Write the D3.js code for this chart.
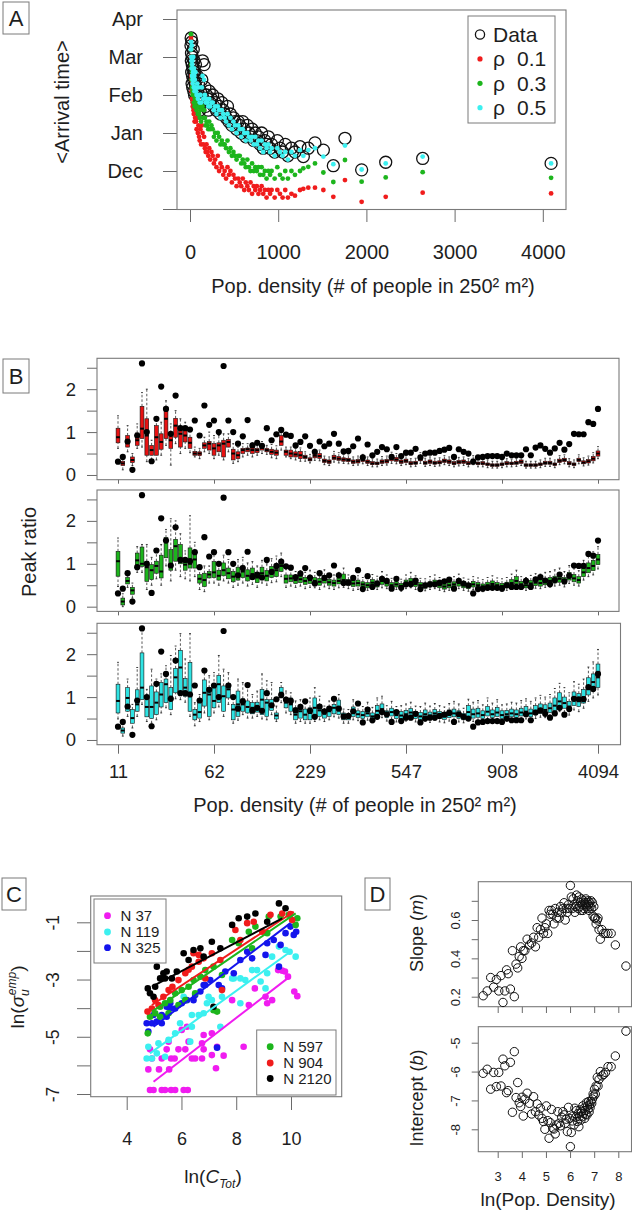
<!DOCTYPE html>
<html>
<head>
<meta charset="utf-8">
<script src="https://cdn.jsdelivr.net/npm/d3@7"></script>
<style>
  body { margin: 0; background: #fff; }
  svg text { font-family: "Liberation Sans", Arial, sans-serif; fill: #1e1e1e; }
</style>
</head>
<body>
<svg id="fig" width="632" height="1213"></svg>
<script>
// population density of each cell class (# of people in 250^2 m^2)
const densities = [11, 13, 15, 17, 19, 21, 23, 25, 27, 29, 31, 34, 37, 40, 43, 46, 49, 52, 55, 58,
  62, 68, 75, 82, 89, 96, 103, 110, 118, 126, 134, 142, 151, 160, 169, 178, 187, 197, 207, 218,
  229, 243, 257, 271, 285, 300, 315, 330, 345, 361, 377, 393, 409, 425, 441, 458, 475, 492, 510, 528,
  547, 564, 581, 598, 615, 632, 650, 668, 686, 704, 722, 740, 758, 776, 794, 812, 830, 849, 868, 888,
  908, 925, 960, 990, 1020, 1050, 1080, 1110, 1150, 1190, 1247, 1285, 1341, 1417, 1512, 1625, 1757, 1946, 2219, 2638, 4094];

// panel A: mean arrival time, months after 1 Nov
const monthLabels = ['', 'Dec', 'Jan', 'Feb', 'Mar', 'Apr'];
const densityTicksA = [0, 1000, 2000, 3000, 4000];
const arrivalData = [4.3, 4.5, 3.9, 4.1, 3.6, 4.4, 3.3, 3.8, 4.0, 3.5, 3.2,
  3.7, 4.2, 3.4, 3.1, 3.9, 3.6, 3.0, 3.5, 3.3, 3.8,
  3.2, 2.9, 3.5, 2.7, 3.3, 3.0, 2.6, 3.1, 2.8, 3.4,
  3.9, 2.9, 3.8, 3.2, 2.7, 3.0, 2.9, 2.6, 3.1, 2.8,
  2.9, 3.0, 2.7, 2.8, 2.6, 2.9, 2.7, 2.5, 2.8, 2.6,
  2.5, 2.4, 2.7, 2.3, 2.5, 2.2, 2.4, 2.3, 2.1, 2.3,
  2.2, 2.0, 2.3, 2.1, 1.9, 2.2, 2.0, 1.9, 2.1, 1.8,
  2.0, 1.8, 1.9, 1.7, 2.0, 1.6, 1.8, 1.7, 1.9, 1.6,
  1.7, 1.5, 1.8, 1.6, 1.5, 1.7, 1.4, 1.6, 1.5,
  1.64, 1.38, 1.60, 1.74, 1.55, 1.14, 1.86, 1.03, 1.23, 1.33, 1.20];
const arrivalRho1 = [4.5, 4.0, 3.5, 3.4, 3.1, 3.7, 2.9, 3.2, 3.3, 2.8, 2.7,
  3.0, 3.2, 2.6, 2.5, 2.9, 2.7, 2.3, 2.6, 2.4, 2.8,
  2.3, 2.1, 2.4, 2.0, 2.2, 1.9, 1.8, 2.1, 1.7, 2.2,
  2.0, 1.7, 1.9, 1.6, 1.5, 1.7, 1.5, 1.4, 1.6, 1.3,
  1.5, 1.4, 1.2, 1.3, 1.1, 1.4, 1.0, 1.2, 1.1, 0.9,
  1.0, 0.8, 1.1, 0.9, 1.0, 0.7, 0.9, 0.8, 0.6, 0.8,
  0.7, 0.6, 0.8, 0.5, 0.7, 0.6, 0.5, 0.7, 0.4, 0.6,
  0.5, 0.6, 0.4, 0.5, 0.6, 0.4, 0.5, 0.3, 0.5, 0.4,
  0.5, 0.3, 0.5, 0.4, 0.3, 0.5, 0.3, 0.4, 0.35,
  0.50, 0.53, 0.56, 0.56, 0.50, 0.32, 0.76, 0.19, 0.32, 0.43, 0.41];
const arrivalRho3 = [4.6, 4.2, 3.8, 3.7, 3.4, 4.0, 3.2, 3.5, 3.6, 3.1, 3.0,
  3.3, 3.6, 3.0, 2.8, 3.2, 3.0, 2.7, 2.9, 2.7, 3.1,
  2.8, 2.6, 2.9, 2.5, 2.7, 2.5, 2.4, 2.6, 2.3, 2.7,
  2.7, 2.4, 2.6, 2.4, 2.2, 2.3, 2.2, 2.1, 2.3, 2.1,
  2.2, 2.1, 1.9, 2.0, 1.8, 2.0, 1.9, 1.7, 1.8, 1.7,
  1.7, 1.6, 1.8, 1.5, 1.6, 1.4, 1.5, 1.4, 1.3, 1.4,
  1.4, 1.2, 1.3, 1.2, 1.1, 1.3, 1.1, 1.0, 1.2, 1.0,
  1.1, 1.0, 1.1, 0.9, 1.1, 0.9, 1.0, 0.8, 1.0, 0.9,
  1.0, 0.8, 1.1, 0.9, 0.8, 1.0, 0.8, 1.0, 0.9,
  1.00, 1.07, 1.11, 1.20, 0.96, 0.71, 1.29, 0.72, 0.83, 0.97, 0.82];
const arrivalRho5 = [4.2, 4.4, 4.0, 3.9, 3.7, 4.3, 3.5, 3.8, 3.9, 3.4, 3.3,
  3.6, 4.0, 3.5, 3.2, 3.7, 3.5, 3.1, 3.4, 3.2, 3.6,
  3.1, 3.0, 3.3, 2.9, 3.2, 3.0, 2.8, 3.0, 2.8, 3.2,
  3.5, 2.9, 3.4, 3.0, 2.8, 2.9, 2.8, 2.7, 2.9, 2.7,
  2.8, 2.8, 2.6, 2.7, 2.5, 2.7, 2.6, 2.4, 2.6, 2.5,
  2.4, 2.3, 2.5, 2.2, 2.4, 2.1, 2.3, 2.2, 2.0, 2.2,
  2.1, 1.9, 2.1, 2.0, 1.8, 2.0, 1.9, 1.8, 1.9, 1.7,
  1.9, 1.7, 1.8, 1.6, 1.8, 1.5, 1.7, 1.6, 1.7, 1.5,
  1.6, 1.4, 1.6, 1.5, 1.4, 1.5, 1.3, 1.5, 1.4,
  1.55, 1.40, 1.55, 1.60, 1.38, 1.18, 1.67, 1.04, 1.20, 1.38, 1.20];

// panel B: observed peak ratio and simulated boxes [lo, q1, median, q3, hi]
const densityTickIdx = [0, 20, 40, 60, 80, 100];
const peakTicks = [0, 0.5, 1, 1.5, 2, 2.5];
const peakData = [0.31, 0.42, 0.78, 0.12, 0.92, 2.6, 1.0, 0.32, 1.31, 2.06, 1.54, 0.96, 1.85, 1.09, 1.09, 1.06, 1.27, 0.92, 1.62, 1.17,
  1.27, 1.0, 2.54, 1.27, 1.0, 0.73, 0.9, 1.28, 0.69, 0.75, 0.68, 1.09, 0.81, 0.95, 1.05, 0.94, 0.91, 0.69, 0.77, 0.90,
  0.68, 0.54, 0.78, 0.67, 0.73, 0.96, 0.73, 0.55, 0.56, 0.67, 0.85, 0.41, 0.71, 0.46, 0.54, 0.65, 0.60, 0.42, 0.65, 0.44,
  0.52, 0.52, 0.61, 0.41, 0.50, 0.52, 0.52, 0.56, 0.59, 0.63, 0.42, 0.60, 0.54, 0.50, 0.31, 0.41, 0.42, 0.44, 0.44, 0.44,
  0.42, 0.50, 0.46, 0.46, 0.46, 0.60, 0.46, 0.64, 0.69, 0.61, 0.52, 0.62, 0.75, 0.59, 0.72, 0.96, 0.95, 0.95, 1.23, 1.19, 1.54];
const boxRho1 = [
  [0.62,0.75,0.88,1.09,1.38],[0.12,0.22,0.27,0.32,0.46],[0.54,0.65,0.78,0.92,1.15],[0.22,0.29,0.35,0.42,0.50],
  [0.62,0.69,0.81,0.98,1.19],[0.65,0.85,1.08,1.60,1.92],[0.31,0.46,0.92,1.31,2.00],[0.35,0.46,0.58,0.69,0.81],
  [0.35,0.46,0.88,1.15,1.31],[0.46,0.60,0.77,0.96,1.23],[0.69,0.85,1.31,1.58,1.73],[0.23,0.62,0.81,0.98,1.19],
  [0.73,0.88,1.15,1.32,1.50],[0.50,0.65,0.96,1.14,1.31],[0.62,0.77,0.92,1.09,1.23],[0.52,0.62,0.75,0.88,1.08],
  [0.42,0.46,0.50,0.55,0.65],[0.38,0.45,0.50,0.54,0.62],[0.54,0.62,0.69,0.75,0.88],[0.50,0.58,0.73,0.78,1.00],
  [0.38,0.46,0.62,0.73,0.92],[0.46,0.54,0.69,0.75,0.92],[0.35,0.42,0.73,0.81,0.96],[0.54,0.65,0.77,0.83,0.96],
  [0.27,0.35,0.50,0.60,0.73],[0.31,0.38,0.46,0.54,0.65],[0.42,0.50,0.58,0.62,0.73],[0.46,0.54,0.60,0.63,0.73],
  [0.42,0.50,0.58,0.65,0.75],[0.46,0.52,0.58,0.62,0.73],[0.50,0.58,0.63,0.69,0.78],[0.48,0.54,0.58,0.62,0.69],
  [0.40,0.48,0.54,0.60,0.71],[0.38,0.46,0.52,0.58,0.68],[0.58,0.69,0.78,0.92,1.04],[0.42,0.46,0.54,0.58,0.65],
  [0.38,0.42,0.50,0.58,0.65],[0.35,0.42,0.48,0.54,0.62],[0.32,0.38,0.46,0.55,0.63],[0.32,0.38,0.42,0.46,0.54],
  [0.28,0.33,0.36,0.40,0.48],[0.34,0.40,0.45,0.52,0.60],[0.33,0.39,0.44,0.50,0.58],[0.24,0.29,0.33,0.37,0.44],
  [0.22,0.27,0.31,0.35,0.42],[0.30,0.36,0.40,0.46,0.55],[0.28,0.34,0.38,0.43,0.52],[0.27,0.32,0.36,0.40,0.48],
  [0.26,0.31,0.35,0.39,0.47],[0.22,0.27,0.31,0.35,0.42],[0.23,0.28,0.32,0.36,0.44],[0.26,0.31,0.35,0.40,0.48],
  [0.22,0.27,0.31,0.35,0.42],[0.19,0.24,0.27,0.31,0.38],[0.19,0.24,0.27,0.30,0.37],[0.22,0.27,0.31,0.35,0.43],
  [0.23,0.28,0.32,0.36,0.44],[0.27,0.33,0.38,0.44,0.53],[0.26,0.32,0.36,0.41,0.50],[0.22,0.27,0.31,0.35,0.42],
  [0.24,0.29,0.33,0.37,0.45],[0.19,0.24,0.27,0.31,0.38],[0.20,0.25,0.28,0.32,0.39],[0.27,0.33,0.38,0.43,0.52],
  [0.20,0.25,0.28,0.32,0.39],[0.22,0.27,0.31,0.35,0.42],[0.20,0.25,0.28,0.32,0.39],[0.21,0.26,0.29,0.33,0.40],
  [0.24,0.29,0.33,0.37,0.45],[0.22,0.27,0.31,0.35,0.42],[0.19,0.24,0.27,0.31,0.38],[0.21,0.26,0.30,0.34,0.41],
  [0.22,0.27,0.31,0.35,0.42],[0.19,0.24,0.27,0.31,0.38],[0.24,0.29,0.33,0.37,0.45],[0.19,0.24,0.27,0.30,0.37],
  [0.19,0.24,0.27,0.31,0.38],[0.17,0.22,0.25,0.28,0.35],[0.16,0.20,0.23,0.26,0.32],[0.16,0.20,0.23,0.26,0.32],
  [0.17,0.22,0.25,0.28,0.35],[0.19,0.24,0.27,0.31,0.38],[0.19,0.24,0.27,0.30,0.37],[0.20,0.25,0.28,0.32,0.39],
  [0.22,0.27,0.31,0.35,0.42],[0.16,0.20,0.23,0.26,0.32],[0.16,0.20,0.23,0.26,0.32],[0.16,0.20,0.23,0.26,0.32],
  [0.17,0.22,0.25,0.28,0.35],[0.20,0.25,0.28,0.32,0.39],[0.20,0.25,0.28,0.32,0.39],[0.17,0.22,0.25,0.28,0.35],
  [0.24,0.29,0.33,0.37,0.45],[0.26,0.31,0.35,0.39,0.47],[0.19,0.24,0.27,0.31,0.38],[0.17,0.22,0.25,0.28,0.35],
  [0.26,0.31,0.35,0.39,0.47],[0.21,0.26,0.29,0.33,0.40],[0.23,0.28,0.32,0.36,0.44],[0.28,0.33,0.38,0.43,0.52],
  [0.38,0.44,0.50,0.56,0.66]];
const boxRho3 = [
  [0.47,0.71,1.06,1.29,1.60],[0.00,0.04,0.12,0.20,0.30],[0.45,0.53,0.60,0.68,0.75],[0.20,0.29,0.38,0.45,0.55],
  [0.80,0.94,1.08,1.25,1.40],[0.80,0.94,1.00,1.39,1.45],[0.40,0.59,0.92,1.06,1.45],[0.50,0.63,0.85,0.98,1.15],
  [0.65,0.78,0.95,1.06,1.30],[0.50,0.67,0.82,1.20,1.45],[0.95,1.14,1.53,1.61,1.80],[0.60,0.85,0.98,1.33,2.05],
  [0.85,1.06,1.41,1.57,2.00],[0.70,1.00,1.10,1.45,1.70],[0.65,0.85,0.98,1.10,1.30],[0.60,0.90,1.00,1.37,2.12],
  [0.70,0.90,1.10,1.29,1.50],[0.40,0.55,0.65,0.75,0.90],[0.35,0.47,0.62,0.78,0.95],[0.55,0.67,0.75,0.82,0.95],
  [0.55,0.68,0.80,1.05,1.25],[0.50,0.62,0.72,0.85,1.05],[0.60,0.72,0.85,1.02,1.20],[0.55,0.65,0.78,0.90,1.10],
  [0.45,0.58,0.70,0.82,1.00],[0.50,0.62,0.75,0.92,1.10],[0.55,0.68,0.82,0.95,1.15],[0.48,0.60,0.72,0.86,1.02],
  [0.52,0.64,0.76,0.90,1.05],[0.45,0.56,0.68,0.80,0.95],[0.55,0.66,0.78,0.92,1.08],[0.50,0.60,0.72,0.84,1.00],
  [0.56,0.68,0.80,0.94,1.12],[0.58,0.70,0.85,0.98,1.18],[0.70,0.82,0.95,1.08,1.25],[0.45,0.55,0.65,0.74,0.88],
  [0.48,0.58,0.66,0.74,0.86],[0.45,0.54,0.62,0.70,0.82],[0.48,0.56,0.64,0.72,0.84],[0.42,0.52,0.60,0.68,0.80],
  [0.45,0.54,0.62,0.70,0.85],[0.44,0.52,0.60,0.68,0.80],[0.40,0.50,0.58,0.66,0.78],[0.46,0.55,0.63,0.72,0.86],
  [0.42,0.50,0.57,0.64,0.76],[0.40,0.48,0.55,0.62,0.74],[0.44,0.53,0.60,0.67,0.80],[0.45,0.55,0.62,0.76,0.90],
  [0.42,0.50,0.56,0.63,0.74],[0.38,0.47,0.54,0.61,0.72],[0.40,0.48,0.55,0.62,0.72],[0.40,0.46,0.52,0.58,0.68],
  [0.38,0.44,0.50,0.56,0.66],[0.42,0.49,0.56,0.63,0.75],[0.40,0.46,0.53,0.60,0.71],[0.44,0.52,0.60,0.68,0.82],
  [0.42,0.48,0.55,0.62,0.74],[0.38,0.44,0.50,0.56,0.66],[0.40,0.46,0.52,0.58,0.70],[0.36,0.42,0.48,0.54,0.64],
  [0.42,0.48,0.55,0.62,0.74],[0.44,0.51,0.58,0.66,0.80],[0.40,0.47,0.53,0.60,0.72],[0.38,0.44,0.50,0.56,0.66],
  [0.37,0.43,0.49,0.55,0.65],[0.40,0.46,0.52,0.58,0.70],[0.42,0.48,0.55,0.62,0.74],[0.38,0.44,0.50,0.56,0.68],
  [0.35,0.41,0.47,0.53,0.63],[0.38,0.44,0.50,0.57,0.68],[0.40,0.46,0.52,0.58,0.70],[0.42,0.48,0.55,0.63,0.76],
  [0.38,0.44,0.50,0.56,0.67],[0.36,0.42,0.48,0.54,0.64],[0.40,0.46,0.52,0.59,0.70],[0.38,0.44,0.50,0.56,0.67],
  [0.35,0.41,0.47,0.53,0.63],[0.38,0.44,0.50,0.57,0.68],[0.40,0.47,0.53,0.60,0.72],[0.38,0.44,0.50,0.56,0.67],
  [0.36,0.42,0.48,0.54,0.65],[0.38,0.44,0.50,0.57,0.68],[0.42,0.48,0.55,0.63,0.76],[0.46,0.53,0.60,0.70,0.85],
  [0.40,0.46,0.52,0.59,0.70],[0.38,0.44,0.50,0.57,0.68],[0.41,0.47,0.54,0.61,0.73],[0.43,0.49,0.56,0.64,0.77],
  [0.42,0.48,0.55,0.63,0.76],[0.45,0.51,0.58,0.66,0.80],[0.46,0.53,0.60,0.68,0.82],[0.48,0.55,0.62,0.71,0.86],
  [0.50,0.57,0.65,0.75,0.90],[0.46,0.53,0.60,0.68,0.82],[0.54,0.62,0.70,0.80,0.96],[0.50,0.58,0.66,0.75,0.90],
  [0.48,0.55,0.62,0.70,0.84],[0.62,0.70,0.80,0.92,1.08],[0.70,0.79,0.90,1.02,1.20],[0.74,0.84,0.95,1.08,1.28],
  [0.88,0.98,1.10,1.22,1.40]];
const boxRho5 = [
  [0.49,0.63,0.91,1.30,1.81],[0.09,0.16,0.22,0.28,0.39],[0.55,0.67,0.98,1.22,1.42],[0.28,0.39,0.51,0.71,0.83],
  [0.55,0.67,0.83,1.17,1.69],[0.83,0.94,1.22,2.03,2.56],[0.43,0.54,0.77,1.04,1.18],[0.39,0.50,0.77,1.26,1.65],
  [0.47,0.59,0.87,1.12,1.42],[0.63,0.77,1.06,1.34,1.54],[0.75,0.87,1.30,1.42,1.73],[0.59,0.71,1.01,1.22,1.97],
  [0.96,1.10,1.46,1.67,2.19],[0.94,1.06,1.69,2.09,2.48],[0.88,1.02,1.22,1.43,1.89],[0.55,0.67,1.10,1.81,2.48],
  [0.33,0.47,0.59,0.71,0.87],[0.43,0.51,0.65,0.87,1.06],[0.63,0.79,1.10,1.40,1.57],[0.47,0.55,1.06,1.22,1.50],
  [0.63,0.75,0.91,1.26,1.57],[0.77,0.87,1.30,1.50,1.97],[0.55,0.67,1.02,1.26,1.65],[0.83,0.98,1.18,1.30,1.57],
  [0.39,0.47,0.71,0.83,1.02],[0.46,0.55,0.83,1.14,1.42],[0.59,0.67,0.83,0.96,1.34],[0.51,0.63,0.77,0.91,1.26],
  [0.51,0.61,0.75,0.87,1.06],[0.55,0.65,0.77,0.88,1.14],[0.49,0.59,0.94,1.18,1.54],[0.47,0.55,0.87,0.94,1.38],
  [0.59,0.69,0.80,0.94,1.34],[0.43,0.49,0.57,0.63,0.79],[0.87,0.98,1.10,1.22,1.34],[0.63,0.75,0.87,0.96,1.14],
  [0.59,0.67,0.83,0.98,1.10],[0.39,0.47,0.59,0.75,0.91],[0.43,0.51,0.67,0.79,0.94],[0.39,0.47,0.59,0.72,0.91],
  [0.39,0.47,0.63,0.75,0.98],[0.43,0.51,0.75,0.98,1.22],[0.47,0.55,0.69,0.80,1.02],[0.43,0.51,0.61,0.69,0.79],
  [0.47,0.55,0.67,0.77,0.91],[0.54,0.61,0.75,0.83,0.94],[0.51,0.59,0.77,0.93,1.06],[0.39,0.47,0.55,0.63,0.72],
  [0.39,0.47,0.54,0.59,0.71],[0.47,0.55,0.67,0.77,0.94],[0.45,0.52,0.60,0.68,0.82],[0.42,0.50,0.58,0.66,0.78],
  [0.46,0.54,0.62,0.72,0.88],[0.40,0.47,0.55,0.63,0.76],[0.50,0.58,0.68,0.80,0.98],[0.52,0.62,0.72,0.84,1.02],
  [0.44,0.52,0.60,0.68,0.80],[0.48,0.56,0.65,0.74,0.90],[0.42,0.50,0.58,0.66,0.78],[0.41,0.49,0.57,0.66,0.80],
  [0.44,0.52,0.60,0.69,0.84],[0.47,0.55,0.64,0.73,0.88],[0.42,0.50,0.58,0.66,0.79],[0.40,0.47,0.55,0.64,0.78],
  [0.44,0.52,0.60,0.70,0.86],[0.41,0.49,0.57,0.65,0.79],[0.46,0.54,0.62,0.71,0.85],[0.42,0.50,0.58,0.66,0.80],
  [0.40,0.48,0.56,0.64,0.77],[0.44,0.52,0.60,0.70,0.85],[0.46,0.54,0.62,0.72,0.90],[0.42,0.50,0.58,0.68,0.84],
  [0.40,0.47,0.55,0.62,0.74],[0.46,0.55,0.65,0.80,0.95],[0.43,0.51,0.60,0.72,0.88],[0.45,0.53,0.62,0.74,0.92],
  [0.42,0.50,0.58,0.68,0.82],[0.48,0.56,0.66,0.78,0.98],[0.44,0.52,0.60,0.70,0.86],[0.46,0.55,0.64,0.76,0.94],
  [0.42,0.50,0.58,0.68,0.82],[0.44,0.52,0.60,0.69,0.84],[0.46,0.54,0.62,0.72,0.88],[0.44,0.52,0.60,0.70,0.86],
  [0.48,0.56,0.64,0.74,0.92],[0.49,0.58,0.66,0.78,0.96],[0.46,0.54,0.62,0.72,0.90],[0.50,0.59,0.68,0.80,0.98],
  [0.53,0.62,0.72,0.84,1.04],[0.52,0.60,0.70,0.82,1.00],[0.55,0.64,0.74,0.86,1.06],[0.58,0.68,0.80,0.98,1.20],
  [0.66,0.76,0.90,1.10,1.32],[0.64,0.74,0.86,1.00,1.22],[0.58,0.68,0.78,0.90,1.10],[0.70,0.80,0.95,1.12,1.36],
  [0.66,0.78,0.92,1.08,1.30],[0.74,0.86,1.00,1.18,1.42],[0.90,1.05,1.25,1.45,1.70],[0.98,1.16,1.35,1.54,1.82],
  [1.05,1.22,1.46,1.77,2.11]];

// panel C: ln(sigma_u^emp) against ln(C_Tot), one group per cell size N
const cGroups = ['N 37', 'N 119', 'N 325', 'N 597', 'N 904', 'N 2120'];
const cN37 = [[4.85,-6.86],[4.98,-6.86],[5.28,-6.86],[5.40,-6.86],[5.62,-6.86],[5.77,-6.86],[6.08,-6.86],[6.23,-6.86],
  [4.79,-6.14],[5.18,-6.14],[5.55,-6.14],[4.92,-5.76],[5.28,-5.76],[5.62,-5.76],[5.75,-5.76],[6.38,-5.76],[6.50,-5.76],
  [6.75,-5.76],[4.85,-5.44],[5.46,-5.44],[5.89,-5.44],[6.14,-5.44],[6.81,-5.44],[5.53,-5.17],[6.01,-4.76],[6.26,-5.17],
  [6.75,-5.23],[7.11,-4.88],[7.30,-5.35],[7.26,-6.10],[7.54,-5.66],[6.81,-4.94],[8.27,-5.35],[7.85,-3.72],[8.46,-3.89],
  [8.68,-3.31],[9.07,-3.60],[9.13,-3.83],[9.53,-2.67],[9.78,-2.72],[9.89,-2.90],[10.12,-3.42],[10.23,-3.58],[9.68,-2.69],
  [9.31,-3.72],[6.20,-4.65],[7.11,-5.64]];
const cN119 = [[4.73,-5.76],[4.92,-5.76],[5.10,-5.58],[5.40,-5.70],[4.79,-5.35],[5.16,-5.23],[5.53,-5.11],[5.77,-4.88],
  [5.95,-4.53],[6.32,-5.17],[6.38,-4.24],[6.63,-4.24],[6.81,-4.18],[6.38,-4.65],[7.11,-3.72],[7.42,-4.65],[7.91,-2.96],
  [8.15,-2.96],[8.33,-3.02],[8.58,-2.67],[8.76,-2.67],[9.07,-3.31],[9.31,-2.20],[9.56,-1.85],[9.80,-1.97],[9.95,-2.03],
  [10.17,-2.20],[9.13,-2.78],[8.89,-3.07],[8.15,-3.83],[7.85,-2.96],[6.08,-3.60],[6.99,-3.60],[7.48,-3.60],[6.93,-3.83]];
const cN325 = [[4.73,-4.53],[4.92,-4.53],[4.79,-4.82],[5.10,-4.47],[5.28,-4.53],[5.46,-4.30],[5.59,-4.01],[5.77,-4.01],
  [6.01,-3.83],[6.20,-3.72],[6.50,-3.54],[6.69,-3.42],[6.81,-3.19],[7.05,-3.02],[7.36,-3.19],[7.48,-3.31],[7.60,-2.72],
  [7.91,-2.78],[8.15,-2.32],[8.40,-2.03],[8.58,-2.26],[9.07,-2.14],[9.13,-1.73],[9.37,-1.62],[9.62,-1.79],[9.80,-1.38],
  [9.98,-1.15],[10.19,-1.33],[10.10,-1.44],[9.56,-2.55],[6.44,-3.72],[6.87,-3.19],[5.46,-3.95],[4.98,-4.24],[5.28,-4.24],
  [5.59,-3.83],[7.30,-5.38]];
const cN597 = [[4.77,-4.88],[4.85,-4.30],[5.04,-4.18],[5.22,-3.95],[5.40,-3.83],[5.59,-3.72],[5.77,-3.48],[6.01,-3.37],
  [6.26,-3.25],[6.44,-3.02],[6.69,-2.90],[6.87,-2.67],[7.17,-2.55],[7.48,-2.84],[7.85,-1.62],[8.09,-1.73],[8.46,-1.33],
  [8.70,-1.15],[9.19,-0.80],[9.62,-0.80],[9.92,-0.74],[10.23,-0.86],[10.17,-1.09],[7.30,-4.12],[7.17,-4.07],[5.22,-4.30],
  [5.53,-4.18],[6.14,-3.72],[5.89,-3.89],[6.50,-3.48],[9.13,-1.38],[8.58,-1.91]];
const cN904 = [[4.76,-4.12],[4.92,-4.01],[5.04,-3.72],[5.16,-3.89],[5.34,-3.60],[5.53,-3.37],[5.67,-3.25],[5.89,-3.02],
  [6.14,-2.78],[6.38,-2.55],[6.63,-2.38],[6.81,-2.26],[7.11,-2.08],[7.42,-2.32],[7.48,-3.37],[7.97,-1.27],[8.15,-1.62],
  [8.40,-1.03],[8.64,-0.98],[8.95,-1.33],[9.25,-0.74],[9.68,-0.69],[9.98,-0.71],[10.04,-0.92],[6.87,-2.96],[6.63,-2.14],
  [6.26,-2.66],[6.44,-2.08]];
const cN2120 = [[4.77,-3.31],[4.85,-3.48],[4.98,-3.60],[5.04,-3.25],[5.22,-2.96],[5.34,-2.78],[5.46,-2.72],[5.65,-2.96],
  [5.83,-2.72],[6.08,-2.08],[6.26,-2.32],[6.44,-1.97],[6.69,-1.91],[6.81,-2.20],[7.11,-1.68],[7.42,-1.91],[7.85,-1.09],
  [8.09,-0.86],[8.40,-0.80],[8.70,-0.69],[9.13,-0.98],[9.56,-0.34],[9.80,-0.51],[7.17,-3.95],[5.10,-2.55],[5.40,-2.96]];
// fitted lines, [x0, y0, x1, y1]
const cFits = [[4.98,-6.57,9.98,-2.88],[4.85,-5.58,9.90,-2.08],[4.98,-4.65,9.98,-1.03],
  [4.92,-4.12,10.17,-0.69],[4.92,-3.89,10.10,-0.63],[4.92,-3.25,9.68,-0.86]];

// panel D: slope and intercept of the fit in each density class
const slopeM = [0.205, 0.23, 0.30, 0.25, 0.29, 0.23, 0.31, 0.17, 0.23, 0.34, 0.32, 0.24, 0.44, 0.20, 0.37, 0.35, 0.41, 0.46, 0.40, 0.44,
  0.44, 0.50, 0.47, 0.48, 0.51, 0.46, 0.56, 0.51, 0.55, 0.61, 0.53, 0.56, 0.58, 0.53, 0.65, 0.63, 0.65, 0.63, 0.58, 0.66,
  0.61, 0.64, 0.61, 0.67, 0.64, 0.66, 0.69, 0.60, 0.66, 0.64, 0.68, 0.66, 0.78, 0.72, 0.66, 0.71, 0.68, 0.64, 0.67, 0.73,
  0.70, 0.66, 0.72, 0.67, 0.69, 0.65, 0.71, 0.68, 0.65, 0.70, 0.66, 0.69, 0.68, 0.71, 0.67, 0.69, 0.66, 0.70, 0.68, 0.65,
  0.69, 0.67, 0.70, 0.66, 0.69, 0.62, 0.67, 0.61, 0.61, 0.58, 0.60, 0.61, 0.55, 0.50, 0.55, 0.53, 0.53, 0.53, 0.53, 0.47, 0.36];
const interceptB = [-6.06, -5.92, -6.61, -6.03, -6.52, -6.03, -6.50, -5.57, -5.80, -6.73, -6.66, -5.68, -7.41, -5.31, -6.90, -6.38, -7.08, -7.21, -6.89, -7.54,
  -6.96, -6.75, -7.10, -7.47, -6.87, -7.39, -7.12, -7.50, -7.27, -7.62, -7.73, -8.00, -7.19, -7.70, -8.31, -7.77, -7.31, -7.96, -7.99, -8.16,
  -7.85, -7.39, -7.79, -7.88, -7.58, -7.39, -7.50, -7.79, -7.65, -8.08, -7.24, -7.62, -8.60, -8.11, -7.71, -7.54, -7.85, -7.27, -7.58, -7.35,
  -7.73, -7.45, -7.91, -7.56, -7.33, -7.68, -7.39, -7.56, -7.19, -7.45, -7.27, -7.62, -7.35, -7.48, -7.08, -7.50, -7.19, -7.30, -7.04, -7.40,
  -7.15, -7.25, -7.04, -7.10, -6.95, -6.78, -6.85, -6.61, -6.78, -6.50, -6.20, -6.50, -6.27, -6.00, -6.15, -6.10, -6.03, -5.83, -5.83, -5.46, -4.60];
const lnTicks = [3, 4, 5, 6, 7, 8];
const slopeTicks = [0.2, 0.3, 0.4, 0.5, 0.6, 0.7];
const interceptTicks = [-8, -7, -6, -5];

const RED = '#f01c1c', GREEN = '#1db51d', CYAN = '#3cf0f0';
const BOX_RED = '#e81212', BOX_GREEN = '#1cb51c', BOX_CYAN = '#2fe3e3';
const C_COLORS = ['#f01cf0', '#3cf0f0', '#1414ec', '#1db51d', '#f01c1c', '#000000'];
const FRAME = '#7a7a7a', TICK = '#6a6a6a';

const svg = d3.select('#fig');

function frame(x0, y0, x1, y1) {
  svg.append('rect')
    .attr('x', x0).attr('y', y0)
    .attr('width', x1 - x0).attr('height', y1 - y0)
    .attr('fill', 'none').attr('stroke', FRAME).attr('stroke-width', 1.1);
}

function panelLabel(txt, x0, y0, x1, y1) {
  svg.append('rect')
    .attr('x', x0).attr('y', y0)
    .attr('width', x1 - x0).attr('height', y1 - y0)
    .attr('fill', '#fff').attr('stroke', FRAME).attr('stroke-width', 1);
  svg.append('text')
    .attr('x', (x0 + x1) / 2).attr('y', (y0 + y1) / 2 + 8)
    .attr('text-anchor', 'middle').attr('font-size', 22)
    .text(txt);
}

// styles a d3 axis group the way base R draws it: no domain line, grey ticks
function rAxis(sel, fontSize) {
  sel.select('.domain').remove();
  sel.selectAll('line').attr('stroke', TICK).attr('stroke-width', 1);
  sel.attr('font-family', null).attr('font-size', fontSize);
  sel.selectAll('text').attr('fill', '#1e1e1e');
  return sel;
}

function yTitle(x, y, size, build) {
  let t = svg.append('text')
    .attr('transform', `translate(${x},${y}) rotate(-90)`)
    .attr('text-anchor', 'middle').attr('font-size', size);
  build(t);
}

// R prints plain hyphen minus signs
let plain = d => String(d);

// ---------- panel A ----------
let xA = d3.scaleLinear().domain([0, 4000]).range([190, 542.8]);
let yA = d3.scaleLinear().domain([0, 5]).range([209, 19]);

svg.append('g').attr('transform', 'translate(177,0)')
  .call(d3.axisLeft(yA).tickValues(d3.range(6)).tickFormat(i => monthLabels[i]).tickSize(14).tickPadding(20))
  .call(g => rAxis(g, 20));

svg.append('g').attr('transform', 'translate(0,209)')
  .call(d3.axisBottom(xA).tickValues(densityTicksA).tickFormat(plain).tickSize(13))
  .call(g => rAxis(g, 20))
  .call(g => g.selectAll('text').attr('y', 50).attr('dy', null));

frame(177, 10, 566, 209.5);

let gA = svg.append('g');
gA.selectAll('circle.data').data(densities).join('circle')
  .attr('class', 'data')
  .attr('cx', d => xA(d)).attr('cy', (d, i) => yA(arrivalData[i]))
  .attr('r', 6).attr('fill', 'none').attr('stroke', '#111').attr('stroke-width', 1.3);

[[arrivalRho1, RED], [arrivalRho3, GREEN], [arrivalRho5, CYAN]].forEach(([vals, col]) => {
  gA.append('g').selectAll('circle').data(densities).join('circle')
    .attr('cx', d => xA(d)).attr('cy', (d, i) => yA(vals[i]))
    .attr('r', 2.4).attr('fill', col);
});

svg.append('rect').attr('x', 468).attr('y', 16).attr('width', 87).attr('height', 107)
  .attr('fill', '#fff').attr('stroke', FRAME).attr('stroke-width', 1);
let legA = [['Data', null], ['0.1', RED], ['0.3', GREEN], ['0.5', CYAN]];
legA.forEach(([lab, col], i) => {
  let cy = 34.5 + i * 24.4;
  if (col) {
    svg.append('circle').attr('cx', 480).attr('cy', cy).attr('r', 2.6).attr('fill', col);
    svg.append('text').attr('x', 493).attr('y', cy + 7.5).attr('font-size', 21).text('ρ');
    svg.append('text').attr('x', 517).attr('y', cy + 7.5).attr('font-size', 21).text(lab);
  } else {
    svg.append('circle').attr('cx', 480).attr('cy', cy).attr('r', 4.6)
      .attr('fill', 'none').attr('stroke', '#111').attr('stroke-width', 1.3);
    svg.append('text').attr('x', 493).attr('y', cy + 7.5).attr('font-size', 21).text(lab);
  }
});

yTitle(69, 102, 20, t => t.text('<Arrival time>'));
svg.append('text').attr('x', 373).attr('y', 293).attr('text-anchor', 'middle').attr('font-size', 20)
  .text('Pop. density (# of people in 250² m²)');
panelLabel('A', 3, 2, 29, 34);

// ---------- panel B ----------
let xB = d3.scaleLinear().domain([0, 100]).range([118, 598]);
let boxW = 3.8;
let panelsB = [
  { top: 358.3, right: 619, boxes: boxRho1, fill: BOX_RED, tick: 4 },
  { top: 490, right: 619, boxes: boxRho3, fill: BOX_GREEN, tick: 4 },
  { top: 623.3, right: 620.5, boxes: boxRho5, fill: BOX_CYAN, tick: 9 }
];

panelsB.forEach((p, k) => {
  let bottom = p.top + 121.4;
  let yB = d3.scaleLinear().domain([-0.11, 2.72]).range([bottom, p.top]);

  svg.append('g').attr('transform', 'translate(97,0)')
    .call(d3.axisLeft(yB).tickValues(peakTicks).tickFormat(d => d % 1 === 0 ? d : '').tickSize(10).tickPadding(11))
    .call(g => rAxis(g, 18.5));

  svg.append('g').attr('transform', `translate(0,${bottom})`)
    .call(d3.axisBottom(xB).tickValues(densityTickIdx).tickFormat(i => k === 2 ? densities[i] : '').tickSize(p.tick))
    .call(g => rAxis(g, 18.5))
    .call(g => g.selectAll('text').attr('y', 33).attr('dy', null));

  frame(97, p.top, p.right, bottom);

  let g = svg.append('g');
  let bx = g.selectAll('g.box').data(p.boxes).join('g').attr('class', 'box')
    .attr('transform', (d, i) => `translate(${xB(i)},0)`);
  // dashed whiskers
  bx.append('line').attr('y1', d => yB(d[0])).attr('y2', d => yB(d[1]))
    .attr('stroke', '#111').attr('stroke-width', 0.7).attr('stroke-dasharray', '2.5,2');
  bx.append('line').attr('y1', d => yB(d[3])).attr('y2', d => yB(d[4]))
    .attr('stroke', '#111').attr('stroke-width', 0.7).attr('stroke-dasharray', '2.5,2');
  // staples
  bx.append('line').attr('x1', -boxW / 4).attr('x2', boxW / 4).attr('y1', d => yB(d[0])).attr('y2', d => yB(d[0]))
    .attr('stroke', '#111').attr('stroke-width', 0.8);
  bx.append('line').attr('x1', -boxW / 4).attr('x2', boxW / 4).attr('y1', d => yB(d[4])).attr('y2', d => yB(d[4]))
    .attr('stroke', '#111').attr('stroke-width', 0.8);
  bx.append('rect').attr('x', -boxW / 2).attr('width', boxW)
    .attr('y', d => yB(d[3])).attr('height', d => Math.max(0.8, yB(d[1]) - yB(d[3])))
    .attr('fill', p.fill).attr('stroke', '#111').attr('stroke-width', 0.6);
  bx.append('line').attr('x1', -boxW / 2).attr('x2', boxW / 2).attr('y1', d => yB(d[2])).attr('y2', d => yB(d[2]))
    .attr('stroke', '#000').attr('stroke-width', 2);

  g.append('g').selectAll('circle').data(peakData).join('circle')
    .attr('cx', (d, i) => xB(i)).attr('cy', d => yB(d))
    .attr('r', 3.1).attr('fill', '#000');
});

yTitle(36, 552, 20, t => t.text('Peak ratio'));
svg.append('text').attr('x', 355).attr('y', 812).attr('text-anchor', 'middle').attr('font-size', 20)
  .text('Pop. density (# of people in 250² m²)');
panelLabel('B', 3, 359, 29, 393);

// ---------- panel C ----------
let xC = d3.scaleLinear().domain([4, 10]).range([126.7, 291]);
let yC = d3.scaleLinear().domain([-7, -1]).range([1094, 922.3]);

svg.append('g').attr('transform', 'translate(90.7,0)')
  .call(d3.axisLeft(yC).tickValues(d3.range(-7, 0)).tickFormat(d => (d % 2 !== 0) ? String(d) : '').tickSize(13.7))
  .call(g => rAxis(g, 17.5))
  .call(g => g.selectAll('text')
    .attr('x', 0).attr('dy', null).attr('text-anchor', 'middle')
    .attr('transform', 'translate(-31.4,0) rotate(-90)'));

svg.append('g').attr('transform', 'translate(0,1097)')
  .call(d3.axisBottom(xC).tickValues([4, 6, 8, 10]).tickFormat(plain).tickSize(13))
  .call(g => rAxis(g, 18))
  .call(g => g.selectAll('text').attr('y', 47.5).attr('dy', null));

frame(90.7, 896, 341.7, 1096.7);

let cSets = [cN37, cN119, cN325, cN597, cN904, cN2120];
cSets.forEach((pts, k) => {
  svg.append('g').selectAll('circle').data(pts).join('circle')
    .attr('cx', d => xC(d[0])).attr('cy', d => yC(d[1]))
    .attr('r', 3.3).attr('fill', C_COLORS[k]);
});
svg.append('g').selectAll('line').data(cFits).join('line')
  .attr('x1', d => xC(d[0])).attr('y1', d => yC(d[1]))
  .attr('x2', d => xC(d[2])).attr('y2', d => yC(d[3]))
  .attr('stroke', (d, k) => C_COLORS[k]).attr('stroke-width', 2);

function legendC(x0, y0, x1, y1, rows) {
  svg.append('rect').attr('x', x0).attr('y', y0).attr('width', x1 - x0).attr('height', y1 - y0)
    .attr('fill', '#fff').attr('stroke', FRAME).attr('stroke-width', 1);
  rows.forEach(([k, cy]) => {
    svg.append('circle').attr('cx', x0 + 13.5).attr('cy', cy).attr('r', 3.4).attr('fill', C_COLORS[k]);
    svg.append('text').attr('x', x0 + 26.5).attr('y', cy + 5.4).attr('font-size', 15).text(cGroups[k]);
  });
}
legendC(94, 899, 166, 963, [[0, 915.7], [1, 932], [2, 947.7]]);
legendC(256.7, 1030, 336, 1095, [[3, 1046.7], [4, 1063], [5, 1078.5]]);

yTitle(24, 997, 19, t => {
  t.append('tspan').text('ln(');
  t.append('tspan').attr('font-style', 'italic').text('σ');
  t.append('tspan').attr('font-style', 'italic').attr('font-size', 12).attr('dy', 5).text('u');
  t.append('tspan').attr('font-style', 'italic').attr('font-size', 12).attr('dy', -13).attr('dx', -6).text('emp');
  t.append('tspan').attr('dy', 8).text(')');
});
let cx = svg.append('text').attr('x', 213).attr('y', 1183).attr('text-anchor', 'middle').attr('font-size', 19);
cx.append('tspan').text('ln(');
cx.append('tspan').attr('font-style', 'italic').text('C');
cx.append('tspan').attr('font-style', 'italic').attr('font-size', 12).attr('dy', 5).text('Tot');
cx.append('tspan').attr('dy', -5).text(')');
panelLabel('C', 2, 878, 26, 910);

// ---------- panel D ----------
let xD = d3.scaleLinear().domain([3, 8]).range([497.7, 618.3]);
let ySlope = d3.scaleLinear().domain([0.2, 0.6]).range([996.7, 920]);
let yInt = d3.scaleLinear().domain([-8, -5]).range([1129.3, 1042.7]);

let rotLabels = g => g.selectAll('text')
  .attr('x', 0).attr('dy', null).attr('text-anchor', 'middle')
  .attr('transform', 'translate(-18.3,0) rotate(-90)');

svg.append('g').attr('transform', 'translate(478.3,0)')
  .call(d3.axisLeft(ySlope).tickValues(slopeTicks)
    .tickFormat(d => [0.2, 0.4, 0.6].includes(d) ? d3.format('.1f')(d) : '').tickSize(6.6))
  .call(g => rAxis(g, 13)).call(rotLabels);
svg.append('g').attr('transform', 'translate(478.3,0)')
  .call(d3.axisLeft(yInt).tickValues(interceptTicks).tickFormat(plain).tickSize(6.6))
  .call(g => rAxis(g, 13)).call(rotLabels);

svg.append('g').attr('transform', 'translate(0,1006.7)')
  .call(d3.axisBottom(xD).tickValues(lnTicks).tickFormat('').tickSize(6.3))
  .call(g => rAxis(g, 13));
svg.append('g').attr('transform', 'translate(0,1151.7)')
  .call(d3.axisBottom(xD).tickValues(lnTicks).tickFormat(plain).tickSize(6.3))
  .call(g => rAxis(g, 13))
  .call(g => g.selectAll('text').attr('y', 29.7).attr('dy', null));

frame(478.3, 881.7, 631.5, 1006.7);
frame(478.3, 1026.7, 631.5, 1151.7);

svg.append('g').selectAll('circle').data(slopeM).join('circle')
  .attr('cx', (d, i) => xD(Math.log(densities[i]))).attr('cy', d => ySlope(d))
  .attr('r', 4.2).attr('fill', 'none').attr('stroke', '#111').attr('stroke-width', 1);
svg.append('g').selectAll('circle').data(interceptB).join('circle')
  .attr('cx', (d, i) => xD(Math.log(densities[i]))).attr('cy', d => yInt(d))
  .attr('r', 4.2).attr('fill', 'none').attr('stroke', '#111').attr('stroke-width', 1);

yTitle(423, 933, 18, t => {
  t.append('tspan').text('Slope (');
  t.append('tspan').attr('font-style', 'italic').text('m');
  t.append('tspan').text(')');
});
yTitle(423, 1098, 18, t => {
  t.append('tspan').text('Intercept (');
  t.append('tspan').attr('font-style', 'italic').text('b');
  t.append('tspan').text(')');
});
svg.append('text').attr('x', 548).attr('y', 1206).attr('text-anchor', 'middle').attr('font-size', 19)
  .text('ln(Pop. Density)');
panelLabel('D', 365, 878, 390, 910);
</script>
</body>
</html>
